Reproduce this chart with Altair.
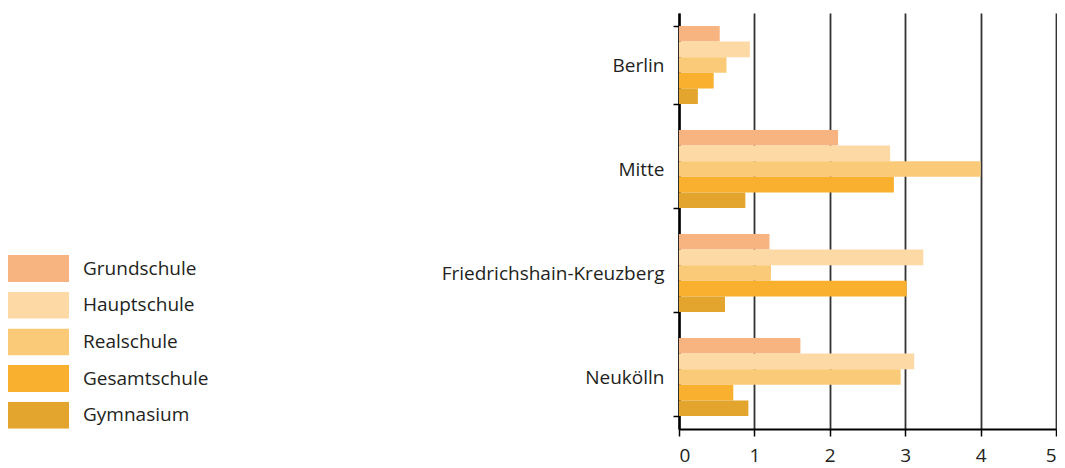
import altair as alt
import pandas as pd

regions = ["Berlin", "Mitte", "Friedrichshain-Kreuzberg", "Neukölln"]
schools = ["Grundschule", "Hauptschule", "Realschule", "Gesamtschule", "Gymnasium"]
colors = ["#F7B480", "#FDDAA5", "#FBCA78", "#F9B02F", "#E4A52E"]

berlin = [0.54, 0.94, 0.63, 0.46, 0.25]
mitte = [2.11, 2.80, 4.00, 2.85, 0.88]
friedrichshain_kreuzberg = [1.20, 3.24, 1.22, 3.02, 0.61]
neukoelln = [1.61, 3.12, 2.94, 0.72, 0.92]

series = [berlin, mitte, friedrichshain_kreuzberg, neukoelln]
rows = []
for r, vals in zip(regions, series):
    for s, v in zip(schools, vals):
        rows.append({"region": r, "school": s, "value": v})
df = pd.DataFrame(rows)

FONT = "Open Sans"
TXT = "#231f20"
FS = 19
LEFT = 671
W = 377

chart = alt.Chart(df).mark_bar().encode(
    y=alt.Y(
        "region:N", sort=regions, title=None,
        scale=alt.Scale(paddingInner=0.25, paddingOuter=0.125),
        axis=alt.Axis(
            tickBand="extent", domainColor="black", domainWidth=2.5,
            tickColor="black", tickSize=6, tickWidth=1.5,
            labelFont=FONT, labelFontSize=FS, labelColor=TXT, labelPadding=9,
            labelLimit=0, grid=False,
        ),
    ),
    yOffset=alt.YOffset("school:N", sort=schools,
                        scale=alt.Scale(paddingInner=0, paddingOuter=0)),
    x=alt.X(
        "value:Q", title=None,
        scale=alt.Scale(domain=[0, 5], nice=False),
        axis=alt.Axis(
            values=[0, 1, 2, 3, 4, 5], format="d",
            grid=True, gridColor="#333333", gridWidth=1.8,
            domainColor="black", domainWidth=2,
            tickColor="black", tickSize=7, tickWidth=1.5,
            labelFont=FONT, labelFontSize=FS, labelColor=TXT, labelPadding=10,
        ),
    ),
    color=alt.Color(
        "school:N", sort=schools,
        scale=alt.Scale(domain=schools, range=colors),
        legend=alt.Legend(
            title=None, orient="none", legendX=-LEFT, legendY=242,
            symbolType="M-1,-0.443L1,-0.443L1,0.443L-1,0.443Z",
            symbolSize=3721, symbolStrokeWidth=0, symbolOpacity=1,
            clipHeight=27, rowPadding=9.7, labelOffset=14,
            labelFont=FONT, labelFontSize=FS, labelColor=TXT,
        ),
    ),
).properties(
    width=W, height=416,
    autosize=alt.AutoSizeParams(type="none"),
    padding={"left": LEFT, "top": 5, "right": 1049 - LEFT - W, "bottom": 38},
).configure_view(stroke=None)

chart.save("out.html", embed_options={"renderer": "svg", "actions": False})
